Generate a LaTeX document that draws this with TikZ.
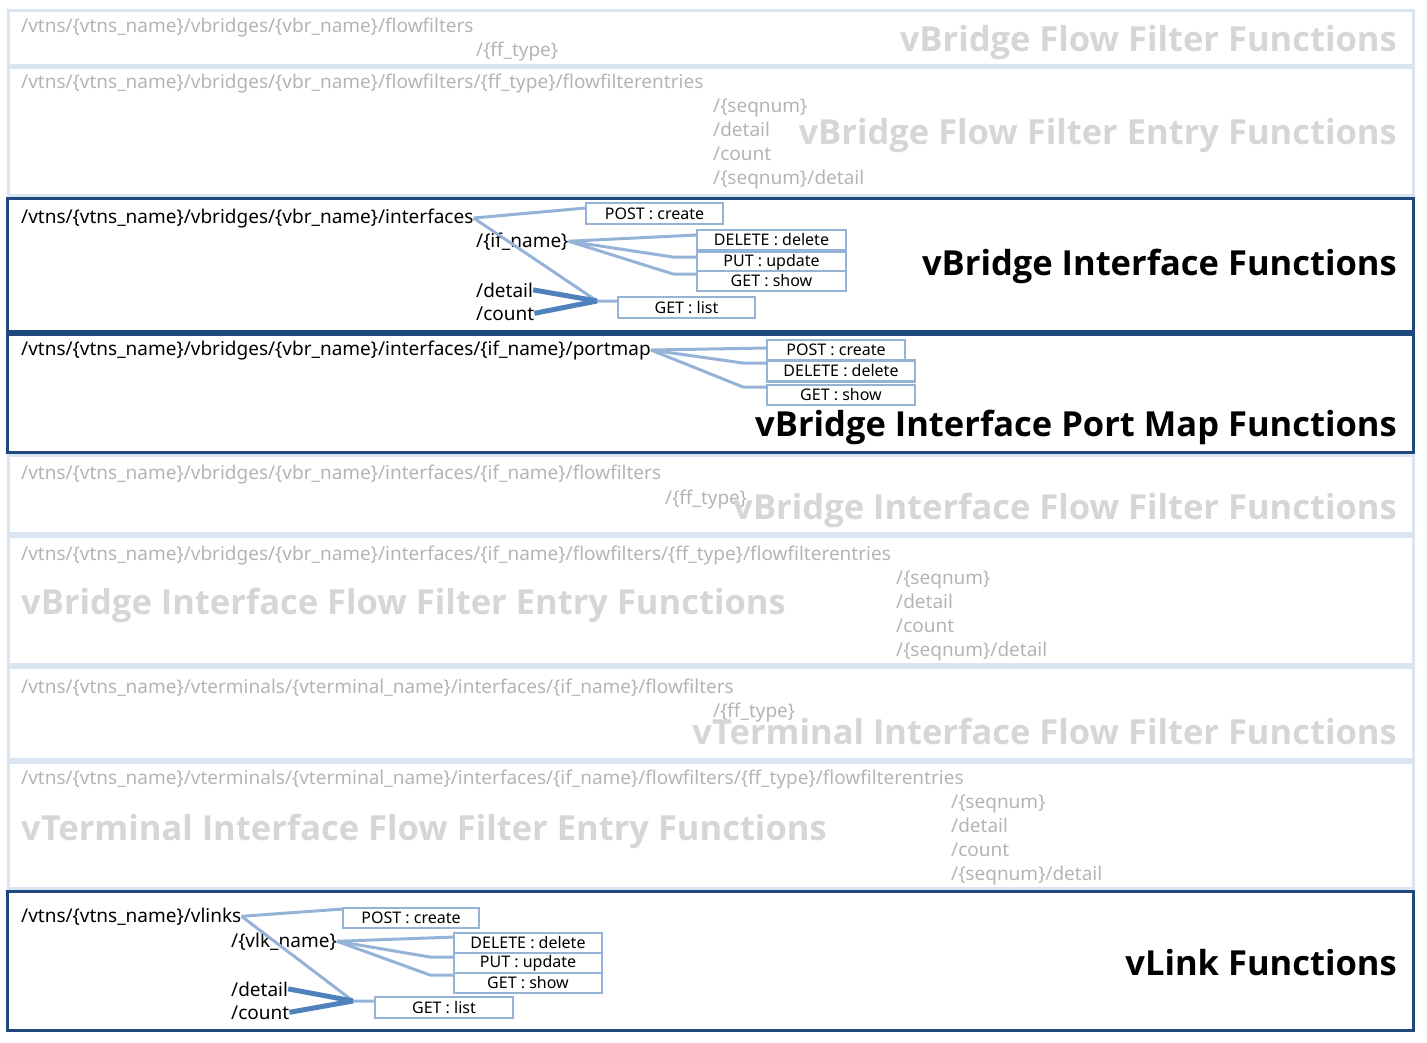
\documentclass[tikz,border=0pt]{standalone}
\usepackage{fontspec}
\setmainfont{Noto Sans}
\newfontfamily\headfont{Open Sans}
\usetikzlibrary{positioning}
\definecolor{bandlight}{HTML}{DBE5F1}
\definecolor{banddark}{HTML}{1F497D}
\definecolor{linkblue}{HTML}{95B3D7}
\definecolor{linkdark}{HTML}{4F81BD}
\definecolor{pathgrey}{HTML}{B4B4B4}
\definecolor{titlegrey}{HTML}{D6D6D6}
\tikzset{
  band/.style={draw=bandlight, line width=3pt},
  activeband/.style={draw=banddark, line width=3pt},
  uri/.style={anchor=base west, inner sep=0pt, font=\fontsize{19}{19}\selectfont},
  olduri/.style={uri, text=pathgrey},
  heading/.style={inner sep=0pt, font=\headfont\fontsize{34.5}{34.5}\selectfont\bfseries},
  oldheading/.style={heading, text=titlegrey},
  opbox/.style={draw=linkblue, line width=2.5pt, fill=white, inner sep=0pt,
    font=\fontsize{16}{16}\selectfont},
  link/.style={draw=linkblue, line width=3pt},
  listlink/.style={draw=linkdark, line width=5pt},
}
\begin{document}
\begin{tikzpicture}[x=1pt,y=-1pt]
  \useasboundingbox (0,0) rectangle (1427,1042);
  % bands
  \draw[band] (8,10) rectangle (1413,65);
  \draw[band] (8,67) rectangle (1413,195);
  \draw[band] (8,455) rectangle (1413,533);
  \draw[band] (8,536) rectangle (1413,664);
  \draw[band] (8,667) rectangle (1413,759);
  \draw[band] (8,762) rectangle (1413,888);
  \draw[activeband] (7,198) rectangle (1413,331);
  \draw[activeband] (7,334) rectangle (1413,452);
  \draw[activeband] (7,891) rectangle (1413,1030);

  % vBridge flow filter
  \node[olduri] (vbrff) at (21,32) {/vtns/\{vtns\_name\}/vbridges/\{vbr\_name\}/flowfilters};
  \node[olduri] (vbrfftype) at (476,56) {/\{ff\_type\}};
  \node[oldheading, anchor=base east] (vbrffhead) at (1397,51) {vBridge Flow Filter Functions};

  % vBridge flow filter entry
  \node[olduri] (vbrffe) at (21,88) {/vtns/\{vtns\_name\}/vbridges/\{vbr\_name\}/flowfilters/\{ff\_type\}/flowfilterentries};
  \node[olduri] (vbrffeseq) at (713,112) {/\{seqnum\}};
  \node[olduri] (vbrffedetail) at (713,136) {/detail};
  \node[olduri] (vbrffecount) at (713,160) {/count};
  \node[olduri] (vbrffeseqdetail) at (713,184) {/\{seqnum\}/detail};
  \node[oldheading, anchor=base east] (vbrffehead) at (1397,144) {vBridge Flow Filter Entry Functions};

  % vBridge interface
  \node[uri] (vbrif) at (21,223) {/vtns/\{vtns\_name\}/vbridges/\{vbr\_name\}/interfaces};
  \node[uri] (vbrifname) at (476,247) {/\{if\_name\}};
  \node[uri] (vbrifdetail) at (476,297) {/detail};
  \node[uri] (vbrifcount) at (476,320) {/count};
  \node[heading, anchor=base east] (vbrifhead) at (1397,275) {vBridge Interface Functions};
  \coordinate (vbriflist) at (597,301);
  \coordinate (vbrifputbend) at (673,257);
  \coordinate (vbrifshowbend) at (673,274);
  \draw[link] (vbrif.east) -- (586,208);
  \draw[link] (vbrif.east) -- (vbriflist) -- (618,301);
  \draw[listlink] (vbrifdetail.east) -- (vbriflist);
  \draw[listlink] (vbrifcount.east) -- (vbriflist);
  \draw[link] (vbrifname.east) -- (697,235);
  \draw[link] (vbrifname.east) -- (vbrifputbend) -- (697,257);
  \draw[link] (vbrifname.east) -- (vbrifshowbend) -- (697,274);
  \node[opbox, minimum width=137pt, minimum height=21pt] (vbrifpost) at (654.5,213.5) {POST : create};
  \node[opbox, minimum width=149pt, minimum height=20pt] (vbrifdel) at (771.5,240) {DELETE : delete};
  \node[opbox, minimum width=149pt, minimum height=20pt] (vbrifput) at (771.5,262) {PUT : update};
  \node[opbox, minimum width=149pt, minimum height=20pt] (vbrifshow) at (771.5,281) {GET : show};
  \node[opbox, minimum width=137pt, minimum height=21pt] (vbriflistbox) at (686.5,307.5) {GET : list};

  % vBridge interface port map
  \node[uri] (vbrpm) at (21,355) {/vtns/\{vtns\_name\}/vbridges/\{vbr\_name\}/interfaces/\{if\_name\}/portmap};
  \node[heading, anchor=base east] (vbrpmhead) at (1397,436) {vBridge Interface Port Map Functions};
  \coordinate (vbrpmdelbend) at (743,363);
  \coordinate (vbrpmshowbend) at (743,387);
  \draw[link] (vbrpm.east) -- (767,348);
  \draw[link] (vbrpm.east) -- (vbrpmdelbend) -- (767,363);
  \draw[link] (vbrpm.east) -- (vbrpmshowbend) -- (767,387);
  \node[opbox, minimum width=138pt, minimum height=20pt] (vbrpmpost) at (836,350) {POST : create};
  \node[opbox, minimum width=148pt, minimum height=21pt] (vbrpmdel) at (841,371) {DELETE : delete};
  \node[opbox, minimum width=148pt, minimum height=20pt] (vbrpmshow) at (841,395) {GET : show};

  % vBridge interface flow filter
  \node[olduri] (vbriff) at (21,479) {/vtns/\{vtns\_name\}/vbridges/\{vbr\_name\}/interfaces/\{if\_name\}/flowfilters};
  \node[olduri] (vbrifftype) at (665,504) {/\{ff\_type\}};
  \node[oldheading, anchor=base east] (vbriffhead) at (1397,519) {vBridge Interface Flow Filter Functions};

  % vBridge interface flow filter entry
  \node[olduri] (vbriffe) at (21,560) {/vtns/\{vtns\_name\}/vbridges/\{vbr\_name\}/interfaces/\{if\_name\}/flowfilters/\{ff\_type\}/flowfilterentries};
  \node[olduri] (vbriffeseq) at (896,584) {/\{seqnum\}};
  \node[olduri] (vbriffedetail) at (896,608) {/detail};
  \node[olduri] (vbriffecount) at (896,632) {/count};
  \node[olduri] (vbriffeseqdetail) at (896,656) {/\{seqnum\}/detail};
  \node[oldheading, anchor=base west] (vbriffehead) at (21,614) {vBridge Interface Flow Filter Entry Functions};

  % vTerminal interface flow filter
  \node[olduri] (vtmiff) at (21,693) {/vtns/\{vtns\_name\}/vterminals/\{vterminal\_name\}/interfaces/\{if\_name\}/flowfilters};
  \node[olduri] (vtmifftype) at (713,717) {/\{ff\_type\}};
  \node[oldheading, anchor=base east] (vtmiffhead) at (1397,744) {vTerminal Interface Flow Filter Functions};

  % vTerminal interface flow filter entry
  \node[olduri] (vtmiffe) at (21,784) {/vtns/\{vtns\_name\}/vterminals/\{vterminal\_name\}/interfaces/\{if\_name\}/flowfilters/\{ff\_type\}/flowfilterentries};
  \node[olduri] (vtmiffeseq) at (951,808) {/\{seqnum\}};
  \node[olduri] (vtmiffedetail) at (951,832) {/detail};
  \node[olduri] (vtmiffecount) at (951,856) {/count};
  \node[olduri] (vtmiffeseqdetail) at (951,880) {/\{seqnum\}/detail};
  \node[oldheading, anchor=base west] (vtmiffehead) at (21,840) {vTerminal Interface Flow Filter Entry Functions};

  % vLink
  \node[uri] (vlk) at (21,922) {/vtns/\{vtns\_name\}/vlinks};
  \node[uri] (vlkname) at (231,947) {/\{vlk\_name\}};
  \node[uri] (vlkdetail) at (231,996) {/detail};
  \node[uri] (vlkcount) at (231,1019) {/count};
  \node[heading, anchor=base east] (vlkhead) at (1397,975) {vLink Functions};
  \coordinate (vlklist) at (353,1001);
  \coordinate (vlkputbend) at (430,957);
  \coordinate (vlkshowbend) at (430,975);
  \draw[link] (vlk.east) -- (343,909);
  \draw[link] (vlk.east) -- (vlklist) -- (375,1001);
  \draw[listlink] (vlkdetail.east) -- (vlklist);
  \draw[listlink] (vlkcount.east) -- (vlklist);
  \draw[link] (vlkname.east) -- (455,937);
  \draw[link] (vlkname.east) -- (vlkputbend) -- (455,957);
  \draw[link] (vlkname.east) -- (vlkshowbend) -- (455,975);
  \node[opbox, minimum width=136pt, minimum height=20pt] (vlkpost) at (411,918) {POST : create};
  \node[opbox, minimum width=148pt, minimum height=20pt] (vlkdel) at (528,943) {DELETE : delete};
  \node[opbox, minimum width=148pt, minimum height=20pt] (vlkput) at (528,963) {PUT : update};
  \node[opbox, minimum width=148pt, minimum height=20pt] (vlkshow) at (528,983) {GET : show};
  \node[opbox, minimum width=138pt, minimum height=21pt] (vlklistbox) at (444,1007.5) {GET : list};
\end{tikzpicture}
\end{document}
